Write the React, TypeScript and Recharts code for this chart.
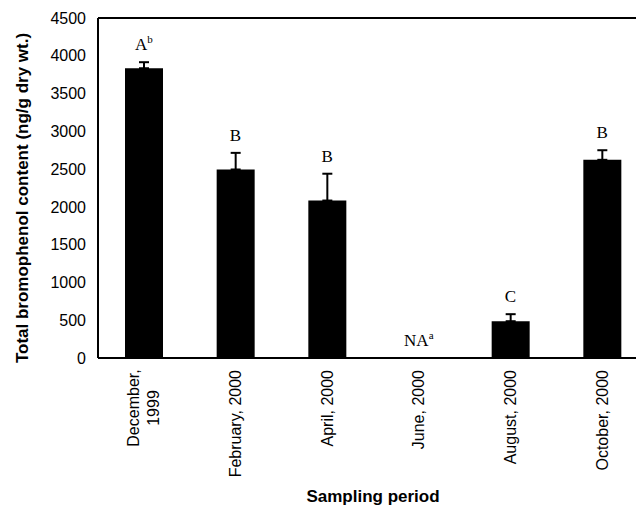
import React from "react";
import {
  ComposedChart,
  Bar,
  Line,
  XAxis,
  YAxis,
  ErrorBar,
  LabelList,
  ReferenceLine,
} from "recharts";

const categories = [
  "December, 1999",
  "February, 2000",
  "April, 2000",
  "June, 2000",
  "August, 2000",
  "October, 2000",
];
const categoryLines: string[][] = [
  ["December,", "1999"],
  ["February, 2000"],
  ["April, 2000"],
  ["June, 2000"],
  ["August, 2000"],
  ["October, 2000"],
];
const contents: (number | null)[] = [3835, 2495, 2084, null, 487, 2623];
const errors: (number | null)[] = [80, 220, 355, null, 93, 127];
const letters = ["A", "B", "B", "NA", "C", "B"];
const superscripts = ["b", "", "", "a", "", ""];
const yTicks = [0, 500, 1000, 1500, 2000, 2500, 3000, 3500, 4000, 4500];

const data = categories.map((c, i) => ({
  name: c,
  lines: categoryLines[i],
  value: contents[i],
  err: errors[i] == null ? null : [0, errors[i] as number],
  top: (contents[i] ?? 0) + (errors[i] ?? 0),
  letter: letters[i],
  sup: superscripts[i],
}));

const SANS = "'Liberation Sans', Arial, sans-serif";
const SERIF = "'Liberation Serif', 'Times New Roman', serif";

const XTick = (props: any) => {
  const { x, y, payload, index } = props;
  const lines: string[] = categoryLines[payload.index ?? index] || [payload.value];
  if (lines.length === 1) {
    return (
      <g transform={`translate(${x},${y})`}>
        <text
          x={-12}
          y={5.6}
          transform="rotate(-90)"
          textAnchor="end"
          fontFamily={SANS}
          fontSize={16}
          fill="#000"
        >
          {lines[0]}
        </text>
      </g>
    );
  }
  return (
    <g transform={`translate(${x},${y})`}>
      {lines.map((l, k) => (
        <text
          key={k}
          x={-50}
          y={5.6 + (k - (lines.length - 1) / 2) * 20}
          transform="rotate(-90)"
          textAnchor="middle"
          fontFamily={SANS}
          fontSize={16}
          fill="#000"
        >
          {l}
        </text>
      ))}
    </g>
  );
};

const LetterLabel = (props: any) => {
  const { x, y, index } = props;
  const d = data[index];
  if (!d) return null;
  return (
    <text
      x={x}
      y={y - 12}
      textAnchor="middle"
      fontFamily={SERIF}
      fontSize={17}
      fill="#000"
    >
      {d.letter}
      {d.sup ? (
        <tspan dy={-7} fontSize={11}>
          {d.sup}
        </tspan>
      ) : null}
    </text>
  );
};

export default function App() {
  return (
    <div
      style={{
        marginLeft: -8,
        marginTop: -8,
        width: 644,
        height: 508,
        overflow: "hidden",
        position: "relative",
        background: "#fff",
      }}
    >
      <ComposedChart
        width={662}
        height={508}
        data={data}
        margin={{ top: 18, right: 14, bottom: 0, left: 0 }}
      >
        <XAxis
          dataKey="name"
          height={150}
          axisLine={{ stroke: "#000", strokeWidth: 2 }}
          tickLine={false}
          tickSize={0}
          tickMargin={0}
          interval={0}
          tick={<XTick />}
          label={(p: any) => {
            const vb = p.viewBox || {};
            return (
              <text
                x={vb.x + vb.width / 2}
                y={vb.y + 144}
                textAnchor="middle"
                fontFamily={SANS}
                fontWeight="bold"
                fontSize={17}
                fill="#000"
              >
                Sampling period
              </text>
            );
          }}
        />
        <YAxis
          width={98}
          domain={[0, 4500]}
          ticks={yTicks}
          interval={0}
          axisLine={{ stroke: "#000", strokeWidth: 2 }}
          tickLine={false}
          tickSize={0}
          tickMargin={12}
          tick={{ fill: "#000", fontSize: 16, fontFamily: SANS }}
          label={(p: any) => {
            const vb = p.viewBox || {};
            const cx = 22;
            const cy = vb.y + vb.height / 2 + 10;
            return (
              <text
                x={cx}
                y={cy}
                transform={`rotate(-90, ${cx}, ${cy})`}
                textAnchor="middle"
                dominantBaseline="central"
                fontFamily={SANS}
                fontWeight="bold"
                fontSize={17}
                fill="#000"
              >
                Total bromophenol content (ng/g dry wt.)
              </text>
            );
          }}
        />
        <ReferenceLine y={4500} stroke="#000" strokeWidth={2} />
        <Bar dataKey="value" fill="#000" barSize={38} isAnimationActive={false}>
          <ErrorBar
            dataKey="err"
            width={5}
            stroke="#000"
            strokeWidth={2}
            direction="y"
          />
        </Bar>
        <Line
          dataKey="top"
          stroke="none"
          dot={false}
          activeDot={false}
          isAnimationActive={false}
        >
          <LabelList dataKey="letter" content={<LetterLabel />} />
        </Line>
      </ComposedChart>
    </div>
  );
}
